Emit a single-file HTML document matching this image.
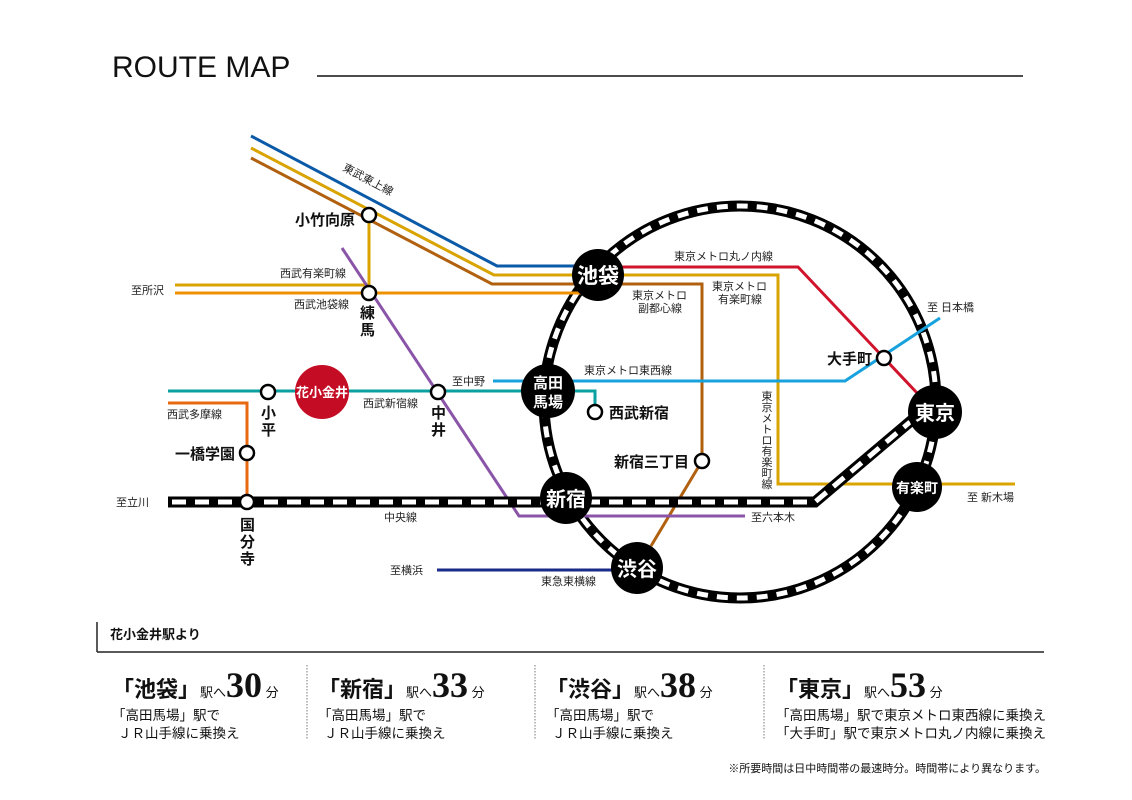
<!DOCTYPE html>
<html><head><meta charset="utf-8"><style>
body{margin:0;background:#fff;}
svg{display:block;font-family:"Liberation Sans","Noto Sans CJK JP",sans-serif;}
.s{font-size:11px;fill:#222;}
.st{font-size:15px;font-weight:bold;fill:#111;}
.w{fill:#fff;font-weight:bold;}
</style></head><body>
<svg width="1132" height="800" viewBox="0 0 1132 800" xmlns="http://www.w3.org/2000/svg">
<text x="112" y="77" font-size="30" fill="#111">ROUTE MAP</text>
<line x1="317" y1="76" x2="1023" y2="76" stroke="#111" stroke-width="1.5"/>

<circle cx="740" cy="402" r="196" fill="none" stroke="#000" stroke-width="11"/>
<circle cx="740" cy="402" r="196" fill="none" stroke="#fff" stroke-width="5" stroke-dasharray="11 9"/>

<g fill="none" stroke-width="3">
<polyline points="251,136 497,266 598,266" stroke="#0a5aa8"/>
<polyline points="251,148 494,275 778,275 778,484 1015,484" stroke="#d9a300"/>
<polyline points="251,158 492,284 702,284 702,461 651,546" stroke="#b0600e"/>
<polyline points="175,285 369,285" stroke="#d9a300"/>
<polyline points="369,215 369,285" stroke="#d9a300"/>
<polyline points="175,293 590,293" stroke="#ee9000"/>
<polyline points="342,248 519,516 745,516" stroke="#8a55a8"/>
<polyline points="598,267 798,267 935,412" stroke="#d0142c"/>
<polyline points="493,381 845,381 940,318" stroke="#17a2dd"/>
<polyline points="168,391 595,391 595,408" stroke="#0aa0a0"/>
<polyline points="168,403 247,403 247,502" stroke="#e86a10"/>
<polyline points="437,570 620,570" stroke="#1a2a8a"/>
</g>
<polyline points="168,502 815,502 912,420" fill="none" stroke="#000" stroke-width="11"/>
<polyline points="172,502 815,502 910,422" fill="none" stroke="#fff" stroke-width="5" stroke-dasharray="14 9"/>

<g fill="#fff" stroke="#000" stroke-width="2.5">
<circle cx="369" cy="215" r="7"/><circle cx="369" cy="293" r="7"/>
<circle cx="268" cy="392" r="7"/><circle cx="438" cy="392" r="7"/>
<circle cx="247" cy="453" r="7"/><circle cx="247" cy="502" r="7"/>
<circle cx="884" cy="358" r="7"/><circle cx="702" cy="461" r="7"/>
<circle cx="595" cy="412" r="7"/>
</g>
<circle cx="322" cy="392" r="27" fill="#c40c24"/>
<text x="322" y="397" class="w" font-size="13" text-anchor="middle">花小金井</text>

<g fill="#000">
<circle cx="598" cy="275" r="26"/><circle cx="548" cy="391" r="27"/>
<circle cx="566" cy="498" r="26"/><circle cx="637" cy="568" r="26"/>
<circle cx="935" cy="412" r="27"/><circle cx="917" cy="487" r="25"/>
</g>
<text x="598" y="283" class="w" font-size="21" text-anchor="middle">池袋</text>
<text x="548" y="388" class="w" font-size="15" text-anchor="middle">高田</text>
<text x="548" y="407" class="w" font-size="15" text-anchor="middle">馬場</text>
<text x="566" y="506" class="w" font-size="20" text-anchor="middle">新宿</text>
<text x="637" y="576" class="w" font-size="20" text-anchor="middle">渋谷</text>
<text x="935" y="420" class="w" font-size="20" text-anchor="middle">東京</text>
<text x="917" y="493" class="w" font-size="14" text-anchor="middle">有楽町</text>

<text x="355" y="225" class="st" text-anchor="end">小竹向原</text>
<text x="360" y="318" class="st">練</text><text x="360" y="335" class="st">馬</text>
<text x="261" y="418" class="st">小</text><text x="261" y="435" class="st">平</text>
<text x="431" y="418" class="st">中</text><text x="431" y="435" class="st">井</text>
<text x="235" y="459" class="st" text-anchor="end">一橋学園</text>
<text x="240" y="530" class="st">国</text><text x="240" y="547" class="st">分</text><text x="240" y="564" class="st">寺</text>
<text x="872" y="364" class="st" text-anchor="end">大手町</text>
<text x="689" y="467" class="st" text-anchor="end">新宿三丁目</text>
<text x="609" y="418" class="st">西武新宿</text>

<text class="s" transform="translate(342,170) rotate(28)">東武東上線</text>
<text x="280" y="277" class="s">西武有楽町線</text>
<text x="294" y="308" class="s">西武池袋線</text>
<text x="131" y="294" class="s">至所沢</text>
<text x="363" y="407" class="s">西武新宿線</text>
<text x="167" y="418" class="s">西武多摩線</text>
<text x="116" y="506" class="s">至立川</text>
<text x="384" y="521" class="s">中央線</text>
<text x="390" y="574" class="s">至横浜</text>
<text x="541" y="585" class="s">東急東横線</text>
<text x="452" y="385" class="s">至中野</text>
<text x="584" y="374" class="s">東京メトロ東西線</text>
<text x="674" y="260" class="s">東京メトロ丸ノ内線</text>
<text x="632" y="299" class="s">東京メトロ</text>
<text x="638" y="312" class="s">副都心線</text>
<text x="712" y="290" class="s">東京メトロ</text>
<text x="718" y="303" class="s">有楽町線</text>
<text x="927" y="311" class="s">至 日本橋</text>
<text x="967" y="501" class="s">至 新木場</text>
<text x="751" y="521" class="s">至六本木</text>
<g class="s" text-anchor="middle">
<text x="767" y="400" class="s">東</text><text x="767" y="411" class="s">京</text><text x="767" y="422" class="s">メ</text>
<text x="767" y="433" class="s">ト</text><text x="767" y="444" class="s">ロ</text><text x="767" y="455" class="s">有</text>
<text x="767" y="466" class="s">楽</text><text x="767" y="477" class="s">町</text><text x="767" y="488" class="s">線</text>
</g>

<line x1="97" y1="622" x2="97" y2="652" stroke="#222" stroke-width="1.5"/>
<line x1="97" y1="652" x2="1044" y2="652" stroke="#222" stroke-width="1.5"/>
<text x="110" y="639" font-size="13" font-weight="bold" fill="#111">花小金井駅より</text>
<g stroke="#777" stroke-width="1" stroke-dasharray="1.5 1.5">
<line x1="307" y1="665" x2="307" y2="740"/><line x1="535" y1="665" x2="535" y2="740"/><line x1="764" y1="665" x2="764" y2="740"/>
</g>
<g fill="#111">
<text x="112" y="697"><tspan font-size="22" font-weight="bold">「池袋」</tspan><tspan font-size="13">駅へ</tspan><tspan font-size="36" font-weight="bold" font-family="Liberation Serif,serif">30</tspan><tspan font-size="13"> 分</tspan></text>
<text x="318" y="697"><tspan font-size="22" font-weight="bold">「新宿」</tspan><tspan font-size="13">駅へ</tspan><tspan font-size="36" font-weight="bold" font-family="Liberation Serif,serif">33</tspan><tspan font-size="13"> 分</tspan></text>
<text x="546" y="697"><tspan font-size="22" font-weight="bold">「渋谷」</tspan><tspan font-size="13">駅へ</tspan><tspan font-size="36" font-weight="bold" font-family="Liberation Serif,serif">38</tspan><tspan font-size="13"> 分</tspan></text>
<text x="776" y="697"><tspan font-size="22" font-weight="bold">「東京」</tspan><tspan font-size="13">駅へ</tspan><tspan font-size="36" font-weight="bold" font-family="Liberation Serif,serif">53</tspan><tspan font-size="13"> 分</tspan></text>
<g font-size="13.5">
<text x="112" y="720">「高田馬場」駅で</text><text x="118" y="738">ＪＲ山手線に乗換え</text>
<text x="318" y="720">「高田馬場」駅で</text><text x="324" y="738">ＪＲ山手線に乗換え</text>
<text x="546" y="720">「高田馬場」駅で</text><text x="552" y="738">ＪＲ山手線に乗換え</text>
<text x="776" y="720">「高田馬場」駅で東京メトロ東西線に乗換え</text>
<text x="776" y="738">「大手町」駅で東京メトロ丸ノ内線に乗換え</text>
</g>
<text x="1046" y="772" font-size="11" text-anchor="end">※所要時間は日中時間帯の最速時分。時間帯により異なります。</text>
</g>
</svg>
</body></html>
